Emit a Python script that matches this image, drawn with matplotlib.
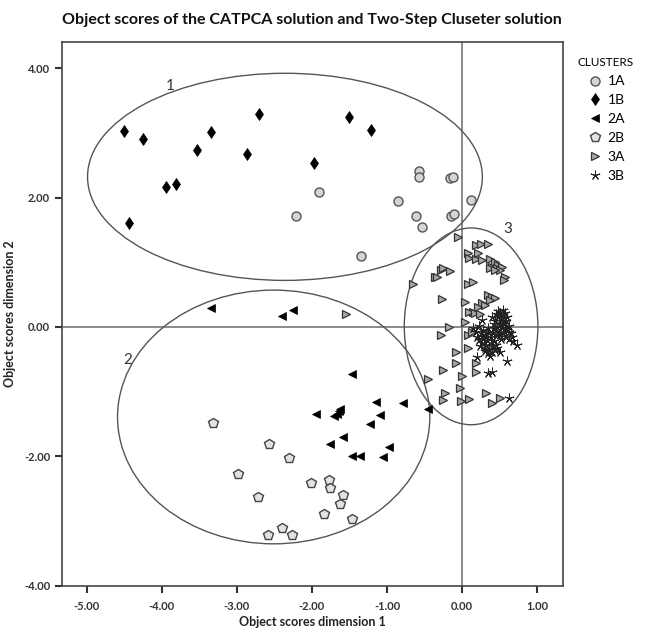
import matplotlib.pyplot as plt
from matplotlib.patches import Ellipse

plt.rcParams['font.family'] = ['Lato', 'DejaVu Sans']

# cluster 1A (circles)
x_1a = [-0.57, -0.57, -0.16, -0.12, -0.86, 0.12, -0.62, -0.54, -0.15, -0.11, -1.35, -1.90, -2.21]
y_1a = [2.41, 2.31, 2.30, 2.32, 1.95, 1.96, 1.72, 1.54, 1.71, 1.74, 1.10, 2.09, 1.71]

# cluster 1B (diamonds)
x_1b = [-4.50, -4.25, -3.53, -3.35, -2.87, -2.70, -1.97, -3.94, -3.81, -4.44, -1.50, -1.22]
y_1b = [3.03, 2.90, 2.74, 3.02, 2.67, 3.29, 2.53, 2.16, 2.21, 1.61, 3.24, 3.05]

# cluster 2A (left triangles)
x_2a = [-3.35, -2.40, -2.25, -1.46, -1.15, -0.79, -0.46, -1.94, -1.64, -1.63, -1.71, -1.67,
        -1.10, -1.23, -1.59, -1.76, -0.98, -1.47, -1.36, -1.06]
y_2a = [0.29, 0.17, 0.26, -0.72, -1.16, -1.17, -1.27, -1.35, -1.30, -1.26, -1.37, -1.34,
        -1.36, -1.50, -1.70, -1.81, -1.86, -2.00, -1.99, -2.01]

# cluster 2B (pentagons)
x_2b = [-3.32, -2.57, -2.31, -2.99, -2.72, -2.01, -1.77, -1.76, -1.58, -1.63, -1.84, -1.46,
        -2.40, -2.58, -2.26]
y_2b = [-1.48, -1.80, -2.03, -2.27, -2.63, -2.41, -2.36, -2.48, -2.59, -2.74, -2.89, -2.97,
        -3.10, -3.21, -3.22]

# cluster 3A (right triangles)
x_3a = [-0.06, 0.19, 0.25, 0.34, 0.08, 0.09, 0.19, 0.26, 0.21, 0.37, 0.44, 0.48, 0.40, 0.47,
        0.53, 0.37, 0.51, 0.44, 0.57, 0.56, -0.36, -0.28, -0.25, -0.16, -0.33, -0.65, 0.08,
        0.15, -0.27, 0.04, 0.35, 0.40, 0.44, 0.37, 0.27, 0.31, 0.21, 0.15, 0.09, 0.17, 0.24,
        0.04, -0.17, -0.28, 0.08, 0.13, -0.08, 0.08, -0.08, 0.19, 0.19, -0.26, 0.00, -0.45,
        -0.03, -0.23, -0.26, -0.02, 0.09, 0.32, 0.40, 0.50, -1.55]
y_3a = [1.39, 1.27, 1.29, 1.28, 1.14, 1.06, 1.05, 1.03, 1.15, 1.05, 1.00, 0.96, 0.93, 0.91,
        0.93, 0.91, 0.88, 0.88, 0.78, 0.73, 0.78, 0.88, 0.91, 0.87, 0.78, 0.66, 0.66,
        0.69, 0.44, 0.38, 0.49, 0.46, 0.45, 0.42, 0.37, 0.34, 0.31, 0.23, 0.23, 0.22, 0.20,
        0.08, 0.00, -0.12, -0.12, -0.07, -0.38, -0.33, -0.56, -0.55, -0.69, -0.66, -0.76, -0.81,
        -0.95, -1.02, -1.13, -1.14, -1.12, -1.02, -1.18, -1.10, 0.20]

# cluster 3B (stars)
x_3b = [0.45, 0.50, 0.55, 0.48, 0.52, 0.58, 0.44, 0.50, 0.56, 0.62, 0.47, 0.53, 0.60, 0.42,
        0.65, 0.55, 0.50, 0.45, 0.58, 0.52, 0.62, 0.68, 0.48, 0.55, 0.40, 0.60, 0.57, 0.63,
        0.46, 0.54, 0.49, 0.59, 0.51, 0.66, 0.43,
        0.25, 0.30, 0.35, 0.28, 0.33, 0.38, 0.22, 0.27, 0.32, 0.38, 0.42, 0.20, 0.30, 0.36,
        0.40, 0.45, 0.34, 0.40, 0.28, 0.18, 0.24, 0.44, 0.37, 0.31, 0.26, 0.35, 0.41, 0.47,
        0.15, 0.23, 0.50, 0.32,
        0.60, 0.40, 0.35, 0.62, 0.20, 0.26, 0.73]
y_3b = [0.20, 0.22, 0.18, 0.15, 0.12, 0.10, 0.10, 0.05, 0.04, 0.02, 0.00, -0.02, -0.05, 0.05,
        -0.10, -0.10, -0.08, -0.05, -0.15, -0.18, -0.18, -0.22, 0.25, 0.26, 0.15, 0.15, 0.22,
        -0.08, -0.12, 0.08, 0.18, -0.02, -0.13, -0.15, -0.02,
        -0.10, -0.12, -0.08, -0.18, -0.20, -0.15, -0.20, -0.25, -0.28, -0.25, -0.22, -0.15,
        -0.32, -0.35, -0.30, -0.28, -0.40, -0.38, -0.05, -0.08, -0.30, -0.35, -0.45, -0.37,
        -0.14, -0.02, -0.10, -0.32, -0.02, 0.02, -0.38, -0.12,
        -0.52, -0.69, -0.71, -1.10, -0.46, 0.11, -0.28]

# ellipses: centre x, centre y, width, height, label, label x, label y
ell_cx = [-2.36, -2.51, 0.12]
ell_cy = [2.32, -1.39, 0.01]
ell_w = [5.26, 4.16, 1.78]
ell_h = [3.20, 3.92, 3.04]
ell_lab = ['1', '2', '3']
lab_x = [-3.89, -4.45, 0.61]
lab_y = [3.72, -0.51, 1.52]

xticks = [-5, -4, -3, -2, -1, 0, 1]
yticks = [-4, -2, 0, 2, 4]

fig = plt.figure(figsize=(6.46, 6.30), dpi=100)
ax = fig.add_axes([0.096, 0.070, 0.775, 0.863])

ax.axhline(0, color='#777777', lw=1.2, zorder=1)
ax.axvline(0, color='#777777', lw=1.2, zorder=1)

for cx, cy, w, h, lab, lx, ly in zip(ell_cx, ell_cy, ell_w, ell_h, ell_lab, lab_x, lab_y):
    ax.add_patch(Ellipse((cx, cy), w, h, fill=False, ec='#555555', lw=1.0, zorder=2))
    ax.text(lx, ly, lab, fontsize=11, color='#333333', ha='center', va='center')

ax.plot(x_1a, y_1a, 'o', ms=6.5, mfc='#d4d4d4', mec='#555555', mew=1.0, ls='none', label='1A', zorder=3)
ax.plot(x_1b, y_1b, 'd', ms=6, mfc='black', mec='black', mew=0.5, ls='none', label='1B', zorder=3)
ax.plot(x_2a, y_2a, '<', ms=5.5, mfc='black', mec='black', mew=0.5, ls='none', label='2A', zorder=3)
ax.plot(x_2b, y_2b, 'p', ms=7, mfc='#e2e2e2', mec='#444444', mew=1.0, ls='none', label='2B', zorder=3)
ax.plot(x_3a, y_3a, '>', ms=5.8, mfc='#a8a8a8', mec='#333333', mew=0.9, ls='none', label='3A', zorder=3)
ax.plot(x_3b, y_3b, marker=(5, 2, 0), ms=7, mec='#222222', mew=0.7, ls='none', label='3B', zorder=4)

ax.set_xlim(-5.33, 1.34)
ax.set_ylim(-4.0, 4.4)
ax.set_xticks(xticks)
ax.set_yticks(yticks)
ax.set_xticklabels(['%.2f' % v for v in xticks], fontsize=8, fontweight='bold', color='#333333')
ax.set_yticklabels(['%.2f' % v for v in yticks], fontsize=8, fontweight='bold', color='#333333')
ax.tick_params(direction='out', length=5, width=1.5, color='#333333')
ax.tick_params(axis='x', pad=6)
for s in ax.spines.values():
    s.set_color('#444444')
    s.set_linewidth(1.2)

ax.set_xlabel('Object scores dimension 1', fontsize=9, fontweight='bold', color='#222222', labelpad=3)
ax.set_ylabel('Object scores dimension 2', fontsize=9, fontweight='bold', color='#222222', labelpad=6)
ax.set_title('Object scores of the CATPCA solution and Two-Step Cluseter solution',
             fontsize=11.5, fontweight='bold', color='#111111', pad=13)

leg = ax.legend(title='CLUSTERS', loc='upper left', bbox_to_anchor=(1.005, 0.995), frameon=False,
                fontsize=10, title_fontsize=8.5, handletextpad=0.3, labelspacing=0.5,
                handlelength=1.2)

fig.savefig('out.png', dpi=100)
